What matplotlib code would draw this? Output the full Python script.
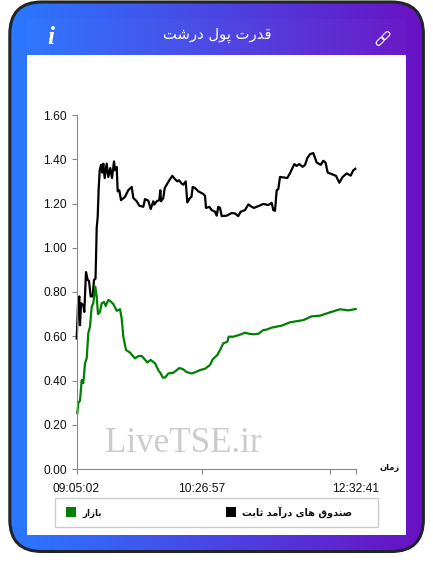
import numpy as np
import matplotlib
matplotlib.use('Agg')
import matplotlib.pyplot as plt
from matplotlib.patches import FancyBboxPatch, Rectangle
from matplotlib.colors import LinearSegmentedColormap
from matplotlib.transforms import Affine2D

# Values, x is the sample position on the category axis
black_x = [0.2, 1.5, 2.8, 3.5, 4.5, 6.8, 7.8, 9.5, 11.2, 12.5,
           14.2, 16.2, 17.5, 19, 19.5, 20.2, 21.2, 22.2, 23.2, 24.5,
           25.8, 26.8, 28.2, 30.2, 31.8, 33.8, 35.5, 37.5, 38.5, 40.2,
           41.2, 42.8, 44.5, 48.5, 51.8, 55.2, 56.8, 60.2, 62.8, 66.8,
           68.5, 71.8, 74.2, 76.8, 77.8, 80.2, 82.8, 83.8, 84.5, 86.8,
           88.2, 90.2, 92.8, 95.8, 98.5, 100.8, 102.5, 105.2, 106.8, 109.2,
           110.8, 113.5, 115, 116.2, 118.5, 121.8, 126.8, 128.5, 129.5, 132.8,
           135.2, 138.5, 140.2, 141.8, 143.5, 145.2, 150.2, 155.2, 158.5, 161.8,
           164.2, 168.5, 171.8, 175.2, 177.5, 182.8, 186.8, 191.8, 195.2, 196.8,
           198.5, 200.2, 201.8, 203.5, 206.8, 210.8, 213.5, 217.8, 220, 222.8,
           226.2, 228.5, 230.8, 233.5, 236.8, 240.2, 244.2, 246.8, 249, 251.2,
           255.2, 259.5, 262.8, 266.2, 270.2, 274.2, 276.8, 278.8]
black_y = [0.59, 0.74, 0.78, 0.65, 0.75, 0.74, 0.71, 0.89, 0.855, 0.85,
           0.78, 0.78, 0.855, 0.86, 0.95, 1.09, 1.14, 1.27, 1.35, 1.375,
           1.34, 1.38, 1.315, 1.38, 1.32, 1.36, 1.315, 1.39, 1.35, 1.365,
           1.255, 1.26, 1.215, 1.23, 1.26, 1.275, 1.225, 1.21, 1.19, 1.185,
           1.22, 1.213, 1.175, 1.21, 1.195, 1.21, 1.215, 1.26, 1.21, 1.225,
           1.27, 1.285, 1.305, 1.325, 1.31, 1.30, 1.305, 1.29, 1.285, 1.30,
           1.205, 1.225, 1.23, 1.275, 1.27, 1.255, 1.243, 1.235, 1.18, 1.185,
           1.17, 1.163, 1.145, 1.185, 1.18, 1.143, 1.145, 1.157, 1.155, 1.143,
           1.163, 1.17, 1.196, 1.185, 1.18, 1.19, 1.198, 1.193, 1.203, 1.17,
           1.167, 1.26, 1.265, 1.32, 1.318, 1.315, 1.337, 1.378, 1.37, 1.378,
           1.366, 1.374, 1.405, 1.423, 1.428, 1.385, 1.375, 1.393, 1.385, 1.34,
           1.333, 1.325, 1.294, 1.32, 1.336, 1.326, 1.35, 1.357]
green_x = [0.8, 1.8, 3.5, 5.2, 6.8, 8.5, 10.2, 11.8, 13.5, 15.2,
           16.8, 18.8, 20.2, 21.5, 23.5, 25.2, 27.5, 29.2, 31.8, 33.5,
           36.8, 40.2, 43.5, 45.2, 46.8, 49.5, 53.5, 58.5, 61.8, 65.2,
           66.8, 70.8, 74.2, 78.5, 81.8, 84.2, 86.2, 88.8, 91.8, 96.8,
           102.8, 106.2, 110.2, 115.2, 118.5, 123.5, 128.5, 133.5, 136.2, 140.8,
           143.5, 146.8, 150.8, 152.2, 156.8, 163.5, 168.5, 172.8, 176.8, 181.8,
           186.8, 190, 195.2, 205.2, 213.5, 226.8, 235.2, 243.5, 253.5, 263.5,
           271.8, 279.2]
green_y = [0.253, 0.298, 0.309, 0.402, 0.388, 0.478, 0.50, 0.614, 0.643, 0.733,
           0.75, 0.824, 0.779, 0.70, 0.711, 0.749, 0.755, 0.737, 0.764, 0.76,
           0.746, 0.715, 0.722, 0.68, 0.598, 0.538, 0.526, 0.50, 0.51, 0.511,
           0.503, 0.482, 0.493, 0.478, 0.447, 0.432, 0.413, 0.414, 0.432, 0.435,
           0.456, 0.452, 0.438, 0.432, 0.437, 0.447, 0.453, 0.47, 0.496, 0.515,
           0.538, 0.568, 0.575, 0.598, 0.598, 0.607, 0.616, 0.611, 0.609, 0.611,
           0.628, 0.63, 0.639, 0.648, 0.663, 0.673, 0.69, 0.693, 0.708, 0.722,
           0.717, 0.723]

y_ticks = [0.0, 0.2, 0.4, 0.6, 0.8, 1.0, 1.2, 1.4, 1.6]
x_ticks = [0, 125.5, 253, 279.5]
x_labels = ['09:05:02', '10:26:57', '', '12:32:41']

title_text = 'قدرت پول درشت'
black_label = 'صندوق های درآمد ثابت'
green_label = 'بازار'
x_axis_label = 'زمان'
watermark = 'LiveTSE.ir'

# matplotlib has no Arabic shaping, so pick the presentation forms by hand
FORMS = {
    'ا': (0xFE8D, 0xFE8E), 'آ': (0xFE81, 0xFE82), 'د': (0xFEA9, 0xFEAA), 'ر': (0xFEAD, 0xFEAE),
    'ز': (0xFEAF, 0xFEB0), 'و': (0xFEED, 0xFEEE),
    'ب': (0xFE8F, 0xFE90, 0xFE91, 0xFE92), 'پ': (0xFB56, 0xFB57, 0xFB58, 0xFB59),
    'ت': (0xFE95, 0xFE96, 0xFE97, 0xFE98), 'ث': (0xFE99, 0xFE9A, 0xFE9B, 0xFE9C),
    'ش': (0xFEB5, 0xFEB6, 0xFEB7, 0xFEB8), 'ص': (0xFEB9, 0xFEBA, 0xFEBB, 0xFEBC),
    'ق': (0xFED5, 0xFED6, 0xFED7, 0xFED8), 'ل': (0xFEDD, 0xFEDE, 0xFEDF, 0xFEE0),
    'م': (0xFEE1, 0xFEE2, 0xFEE3, 0xFEE4), 'ن': (0xFEE5, 0xFEE6, 0xFEE7, 0xFEE8),
    'ه': (0xFEE9, 0xFEEA, 0xFEEB, 0xFEEC), 'ی': (0xFBFC, 0xFBFD, 0xFBFE, 0xFBFF),
}


def shape(text):
    """Join the letters and put them in visual order."""
    out = []
    for i, c in enumerate(text):
        if c not in FORMS:
            out.append(c)
            continue
        prev = text[i - 1] if i > 0 else ' '
        nxt = text[i + 1] if i + 1 < len(text) else ' '
        join_prev = prev in FORMS and len(FORMS[prev]) == 4
        join_next = nxt in FORMS and len(FORMS[c]) == 4
        f = FORMS[c]
        if join_prev and join_next:
            out.append(chr(f[3]))
        elif join_prev:
            out.append(chr(f[1]))
        elif join_next:
            out.append(chr(f[2]))
        else:
            out.append(chr(f[0]))
    return ''.join(reversed(out))


plt.rcParams['font.family'] = ['Liberation Sans', 'DejaVu Sans']
fig = plt.figure(figsize=(4.33, 5.74), dpi=100, facecolor='white')

# Background layer in pixel coordinates
bg = fig.add_axes([0, 0, 1, 1])
bg.axis('off')

cmap = LinearSegmentedColormap.from_list('card', ['#2979ff', '#4a45e4', '#6a11c4'])
grad = np.linspace(0, 1, 256).reshape(1, -1)
im = bg.imshow(grad, cmap=cmap, extent=(9, 424, 551, 1), aspect='auto', zorder=1)
bg.set_xlim(0, 433)
bg.set_ylim(574, 0)
card = FancyBboxPatch((9.8, 2), 413.6, 549.5, boxstyle='round,pad=0,rounding_size=32',
                      transform=bg.transData, fc='none', ec='#212529', lw=2.2, zorder=3)
bg.add_patch(card)
im.set_clip_path(card)

bg.add_patch(Rectangle((27, 19), 379, 36, fc='white', alpha=0.025, ec='none', zorder=2))
bg.add_patch(Rectangle((27, 55), 379, 480, fc='white', ec='none', zorder=2))
bg.text(217, 35, shape(title_text), color='white', fontsize=10.6, family=['DejaVu Sans'],
        ha='center', va='center', zorder=4)
bg.text(51, 37, 'i', color='white', fontsize=18, family=['Liberation Serif'], weight='bold',
        style='italic', ha='center', va='center', zorder=4)

# chain icon
rot = Affine2D().rotate_deg_around(383, 38.5, 45)
for cx, cy in [(383, 34.5), (383, 42.5)]:
    link = FancyBboxPatch((cx - 2.4, cy - 4.6), 4.8, 9.2, boxstyle='round,pad=0,rounding_size=2.4',
                          fc='none', ec='white', lw=0.8, zorder=4, transform=rot + bg.transData)
    bg.add_patch(link)

# Legend box
bg.add_patch(Rectangle((54.5, 497.5), 323, 29, fc='white', ec='#cccccc', lw=1, zorder=4))
bg.add_patch(Rectangle((226, 507), 10, 10, fc='black', ec='none', zorder=5))
bg.add_patch(Rectangle((66, 507), 10, 10, fc='green', ec='none', zorder=5))
bg.text(352, 512, shape(black_label), color='#111111', fontsize=7.0, family=['DejaVu Sans'],
        weight='bold', ha='right', va='center', zorder=5)
bg.text(102, 513, shape(green_label), color='#111111', fontsize=6.2, family=['DejaVu Sans'],
        weight='bold', ha='right', va='center', zorder=5)
bg.text(390, 467, shape(x_axis_label), color='#111111', fontsize=6.0, family=['DejaVu Sans'],
        weight='bold', ha='center', va='center', zorder=5)
bg.text(183, 452, watermark, color='#cccccc', fontsize=25.2, family=['Liberation Serif'],
        ha='center', va='baseline', zorder=5)

# Chart
ax = fig.add_axes([76.5 / 433, (574 - 469) / 574, 279.5 / 433, 354 / 574])
ax.patch.set_alpha(0)
ax.plot(black_x, black_y, color='black', lw=1.6, solid_joinstyle='round', clip_on=False)
ax.plot(green_x, green_y, color='green', lw=1.6, solid_joinstyle='round', clip_on=False)
ax.set_xlim(0, 279.5)
ax.set_ylim(0, 1.6)
ax.set_yticks(y_ticks)
ax.set_yticklabels(['%.2f' % v for v in y_ticks])
ax.set_xticks(x_ticks)
ax.set_xticklabels(x_labels)
ax.tick_params(axis='y', length=3.6, width=0.8, color='#888888', labelsize=8.64, pad=3.2, labelcolor='#111111')
ax.tick_params(axis='x', length=3.6, width=0.8, color='#888888', labelsize=8.64, pad=6.2, labelcolor='#111111')
for side in ['top', 'right']:
    ax.spines[side].set_visible(False)
for side in ['left', 'bottom']:
    ax.spines[side].set_color('#888888')
    ax.spines[side].set_linewidth(0.8)

fig.savefig('out.png', dpi=100)
